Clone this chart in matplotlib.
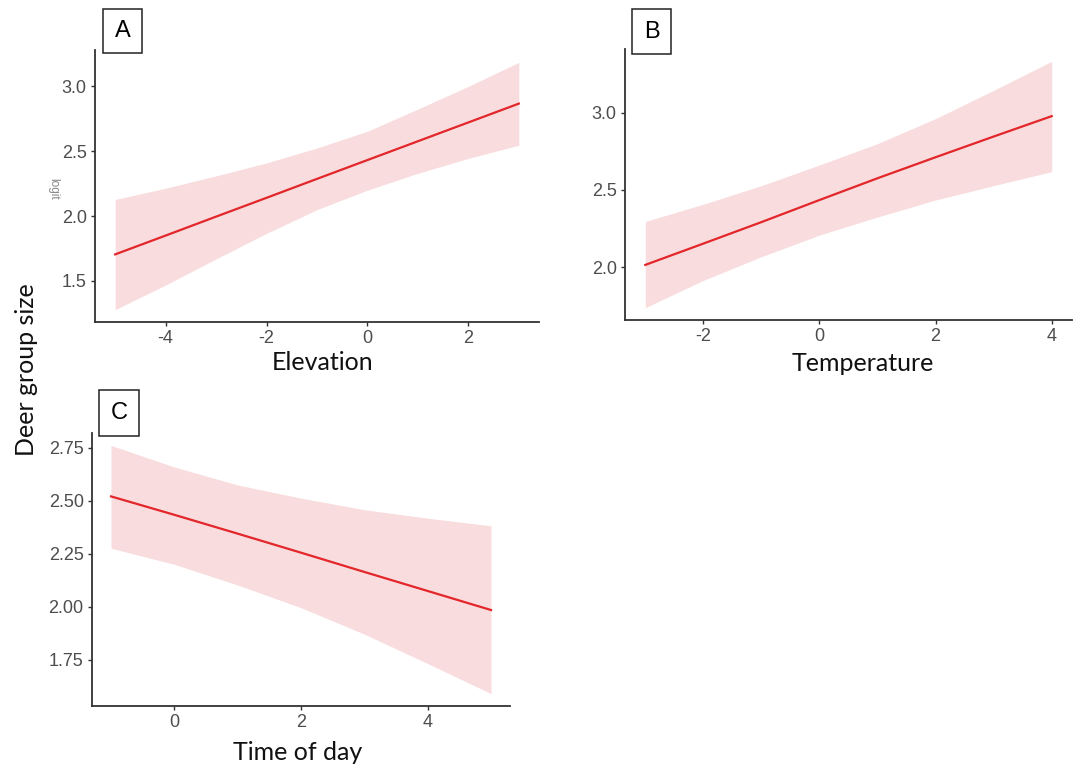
import numpy as np
import matplotlib
matplotlib.use("Agg")
import matplotlib.pyplot as plt
from matplotlib.patches import Rectangle

plt.rcParams["font.family"] = ["Liberation Sans", "DejaVu Sans"]
plt.rcParams["axes.unicode_minus"] = False

# panel A: elevation
elev_x = [-5, -4, -3, -2, -1, 0, 1, 2, 3]
elev_fit = [1.705, 1.850, 1.996, 2.141, 2.287, 2.432, 2.577, 2.722, 2.867]
elev_lo = [1.279, 1.469, 1.670, 1.867, 2.050, 2.200, 2.330, 2.445, 2.546]
elev_hi = [2.128, 2.215, 2.310, 2.410, 2.525, 2.654, 2.825, 3.000, 3.185]

# panel B: temperature
temp_x = [-3, -2, -1, 0, 1, 2, 3, 4]
temp_fit = [2.015, 2.153, 2.292, 2.435, 2.576, 2.712, 2.846, 2.978]
temp_lo = [1.738, 1.915, 2.068, 2.208, 2.325, 2.435, 2.528, 2.619]
temp_hi = [2.296, 2.408, 2.528, 2.662, 2.800, 2.962, 3.145, 3.333]

# panel C: time of day
time_x = [-1, 0, 1, 2, 3, 4, 5]
time_fit = [2.521, 2.434, 2.345, 2.255, 2.164, 2.074, 1.984]
time_lo = [2.276, 2.200, 2.102, 1.995, 1.870, 1.731, 1.589]
time_hi = [2.762, 2.660, 2.575, 2.513, 2.458, 2.418, 2.382]

W, H = 1077, 769
fig = plt.figure(figsize=(W / 100, H / 100), dpi=100)

def px_axes(left, top, right, bottom):
    return fig.add_axes([left / W, 1 - bottom / H, (right - left) / W, (bottom - top) / H])

def style(ax, yticks, fmt):
    for s in ["top", "right"]:
        ax.spines[s].set_visible(False)
    for s in ["left", "bottom"]:
        ax.spines[s].set_color("#333333")
        ax.spines[s].set_linewidth(1.3)
    ax.tick_params(colors="#333333", labelcolor="#4d4d4d", length=3, width=1,
                   labelsize=13, pad=3)
    ax.set_yticks(yticks)
    ax.set_yticklabels([fmt.format(v) for v in yticks])

def panel(ax, x, fit, lo, hi):
    ax.fill_between(x, lo, hi, color="#f9dcdd", lw=0)
    ax.plot(x, fit, color="#e3262a", lw=1.6)
    ax.margins(x=0.05, y=0.05)

axA = px_axes(95, 50, 539, 322)
panel(axA, elev_x, elev_fit, elev_lo, elev_hi)
axA.set_xticks([-4, -2, 0, 2])
style(axA, [1.5, 2.0, 2.5, 3.0], "{:.1f}")

axB = px_axes(625, 49, 1072, 320)
panel(axB, temp_x, temp_fit, temp_lo, temp_hi)
axB.set_xticks([-2, 0, 2, 4])
style(axB, [2.0, 2.5, 3.0], "{:.1f}")

axC = px_axes(92, 433, 510, 706)
panel(axC, time_x, time_fit, time_lo, time_hi)
axC.set_xticks([0, 2, 4])
style(axC, [1.75, 2.00, 2.25, 2.50, 2.75], "{:.2f}")

# panel letters in boxes
for letter, (l, t, r, b) in [("A", (103, 9, 142, 53)), ("B", (632, 9, 671, 54)),
                             ("C", (99, 390, 139, 436))]:
    fig.patches.append(Rectangle((l / W, 1 - b / H), (r - l) / W, (b - t) / H,
                                 transform=fig.transFigure, fill=False,
                                 edgecolor="#222222", lw=1.1))
    fig.text((l + r) / 2 / W, 1 - (t + b) / 2 / H, letter, ha="center", va="center",
             fontsize=17, color="black")

lab_kw = dict(ha="center", va="center", fontsize=18, family="Lato", color="#111111")
fig.text(323 / W, 1 - 363 / H, "Elevation", **lab_kw)
fig.text(863 / W, 1 - 364 / H, "Temperature", **lab_kw)
fig.text(298 / W, 1 - 753 / H, "Time of day", **lab_kw)
fig.text(27 / W, 1 - 370 / H, "Deer group size", rotation=90, **lab_kw)
fig.text(53 / W, 1 - 189 / H, "logit", rotation=-90, ha="center", va="center",
         fontsize=8.5, color="#888888")

fig.savefig("out.png", dpi=100, facecolor="white")
